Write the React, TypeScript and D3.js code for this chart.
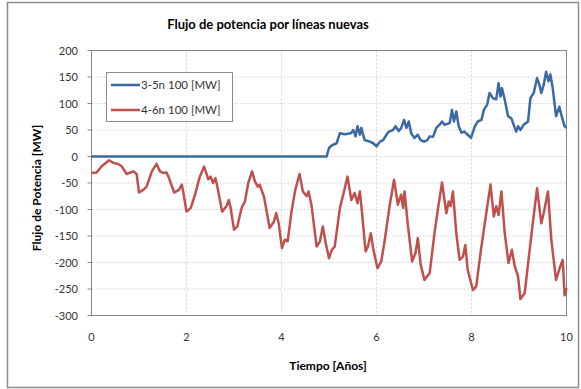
import React from "react";
import * as d3 from "d3";

const title = "Flujo de potencia por líneas nuevas";
const xTitle = "Tiempo [Años]";
const yTitle = "Flujo de Potencia [MW]";
const seriesNames = ["3-5n 100 [MW]", "4-6n 100 [MW]"];
const xTicks = [0, 2, 4, 6, 8, 10];
const yTicks = [200, 150, 100, 50, 0, -50, -100, -150, -200, -250, -300];

const blueT = [0, 4.95, 5.0, 5.06, 5.16, 5.23, 5.33, 5.46, 5.51, 5.56, 5.6, 5.65, 5.68, 5.75, 5.86, 5.93, 6.0, 6.07, 6.14, 6.21, 6.26, 6.35, 6.4, 6.47, 6.52, 6.58, 6.63, 6.68, 6.73, 6.8, 6.87, 6.93, 7.0, 7.07, 7.12, 7.19, 7.26, 7.33, 7.38, 7.43, 7.54, 7.59, 7.63, 7.68, 7.73, 7.79, 7.85, 7.92, 7.99, 8.07, 8.13, 8.21, 8.26, 8.33, 8.38, 8.45, 8.52, 8.57, 8.61, 8.64, 8.7, 8.77, 8.84, 8.91, 8.94, 8.98, 9.03, 9.1, 9.19, 9.24, 9.31, 9.38, 9.43, 9.47, 9.52, 9.57, 9.62, 9.66, 9.71, 9.78, 9.85, 9.89, 9.96, 10.0];
const blueV = [0, 0, 16, 21, 25, 44, 42, 44, 50, 38, 57, 41, 54, 31, 28, 25, 19, 28, 31, 41, 47, 50, 57, 48, 54, 69, 54, 66, 44, 35, 41, 31, 28, 31, 38, 37, 54, 60, 66, 60, 63, 88, 66, 85, 57, 45, 47, 41, 35, 57, 66, 69, 88, 98, 120, 110, 108, 138, 113, 129, 107, 76, 72, 54, 47, 57, 50, 60, 66, 110, 120, 148, 135, 120, 135, 160, 142, 155, 129, 76, 94, 79, 57, 54];

const redT = [0, 0.11, 0.21, 0.37, 0.46, 0.56, 0.64, 0.74, 0.88, 0.95, 1.0, 1.09, 1.16, 1.27, 1.37, 1.44, 1.51, 1.58, 1.62, 1.74, 1.84, 1.9, 1.93, 2.0, 2.09, 2.18, 2.28, 2.37, 2.46, 2.51, 2.56, 2.61, 2.65, 2.75, 2.84, 2.89, 2.93, 3.0, 3.07, 3.16, 3.23, 3.3, 3.38, 3.44, 3.5, 3.54, 3.59, 3.63, 3.75, 3.84, 3.89, 3.94, 4.01, 4.07, 4.13, 4.21, 4.29, 4.38, 4.45, 4.53, 4.57, 4.63, 4.74, 4.81, 4.87, 4.93, 5.0, 5.06, 5.12, 5.23, 5.3, 5.39, 5.47, 5.54, 5.6, 5.65, 5.7, 5.77, 5.82, 5.88, 5.93, 6.02, 6.1, 6.17, 6.28, 6.37, 6.45, 6.52, 6.56, 6.59, 6.66, 6.75, 6.82, 6.87, 6.93, 7.01, 7.12, 7.22, 7.29, 7.38, 7.47, 7.52, 7.56, 7.61, 7.68, 7.75, 7.82, 7.87, 7.92, 8.03, 8.1, 8.19, 8.28, 8.4, 8.47, 8.52, 8.57, 8.63, 8.7, 8.78, 8.85, 8.91, 8.98, 9.03, 9.12, 9.2, 9.29, 9.38, 9.47, 9.52, 9.61, 9.68, 9.78, 9.87, 9.92, 9.96, 10.0];
const redV = [-31, -30, -19, -7, -12, -14, -19, -33, -28, -33, -68, -63, -57, -28, -14, -28, -31, -30, -38, -68, -63, -53, -66, -104, -97, -72, -38, -19, -43, -38, -50, -41, -57, -104, -94, -82, -97, -138, -132, -97, -85, -50, -28, -47, -57, -53, -66, -75, -135, -123, -107, -126, -173, -157, -160, -104, -63, -33, -66, -75, -66, -91, -170, -160, -132, -163, -192, -176, -170, -97, -72, -38, -82, -69, -88, -66, -110, -179, -170, -145, -173, -211, -198, -160, -91, -44, -91, -72, -97, -66, -129, -198, -182, -154, -204, -233, -220, -145, -101, -49, -107, -85, -94, -66, -145, -195, -189, -167, -214, -252, -245, -182, -126, -53, -113, -94, -110, -66, -145, -201, -176, -207, -226, -269, -258, -195, -126, -60, -126, -107, -66, -157, -233, -207, -195, -262, -248];

const colors = ["#3b6aa3", "#c0504d"];
const font = "Lato, 'Open Sans', 'Liberation Sans', sans-serif";

export default function App() {
  const W = 581, H = 389;
  const left = 91.5, right = 566.5, top = 50.5, bottom = 315.5;
  const x = d3.scaleLinear().domain([0, 10]).range([left, right]);
  const y = d3.scaleLinear().domain([-300, 200]).range([bottom, top]);
  const line = d3.line<[number, number]>().x(d => x(d[0])).y(d => y(d[1]));
  const blue = blueT.map((t, i) => [t, blueV[i]] as [number, number]);
  const red = redT.map((t, i) => [t, redV[i]] as [number, number]);

  return (
    <svg width={W} height={H} style={{ position: "absolute", left: 0, top: 0, background: "#fff" }} fontFamily={font}>
      <rect x={7.5} y={2.5} width={571} height={385} fill="#fff" stroke="#8c8c8c" strokeWidth={1.5} />
      <text x={268} y={29} textAnchor="middle" fontSize={13} fontWeight="bold" fill="#000">{title}</text>
      {yTicks.map(v => (
        <line key={"gy" + v} x1={left} x2={right} y1={y(v)} y2={y(v)} stroke="#d4d4d4" strokeDasharray="2,2" />
      ))}
      {xTicks.map(v => (
        <line key={"gx" + v} x1={x(v)} x2={x(v)} y1={top} y2={bottom} stroke="#d4d4d4" strokeDasharray="2,2" />
      ))}
      <rect x={left} y={top} width={right - left} height={bottom - top} fill="none" stroke="#868686" strokeWidth={1} />
      {yTicks.map(v => (
        <g key={"ty" + v}>
          <line x1={left - 4} x2={left} y1={y(v)} y2={y(v)} stroke="#868686" />
          <text x={78} y={y(v) + 4} textAnchor="end" fontSize={11} fill="#333">{v}</text>
        </g>
      ))}
      {xTicks.map(v => (
        <text key={"tx" + v} x={x(v)} y={341} textAnchor="middle" fontSize={11} fill="#333">{v}</text>
      ))}
      <path d={line(red) || ""} fill="none" stroke={colors[1]} strokeWidth={2.5} strokeLinejoin="round" />
      <path d={line(blue) || ""} fill="none" stroke={colors[0]} strokeWidth={2.5} strokeLinejoin="round" />
      <text x={328} y={370} textAnchor="middle" fontSize={12} fontWeight="bold" fill="#000">{xTitle}</text>
      <text transform="translate(41,188) rotate(-90)" textAnchor="middle" fontSize={12} fontWeight="bold" fill="#000">{yTitle}</text>
      <rect x={106.5} y={72.5} width={126} height={49} fill="#fff" stroke="#8c8c8c" />
      {seriesNames.map((n, i) => (
        <g key={n}>
          <line x1={111} x2={140} y1={85 + i * 25} y2={85 + i * 25} stroke={colors[i]} strokeWidth={2.5} />
          <text x={141} y={89 + i * 25} fontSize={11.5} fill="#333">{n}</text>
        </g>
      ))}
    </svg>
  );
}
